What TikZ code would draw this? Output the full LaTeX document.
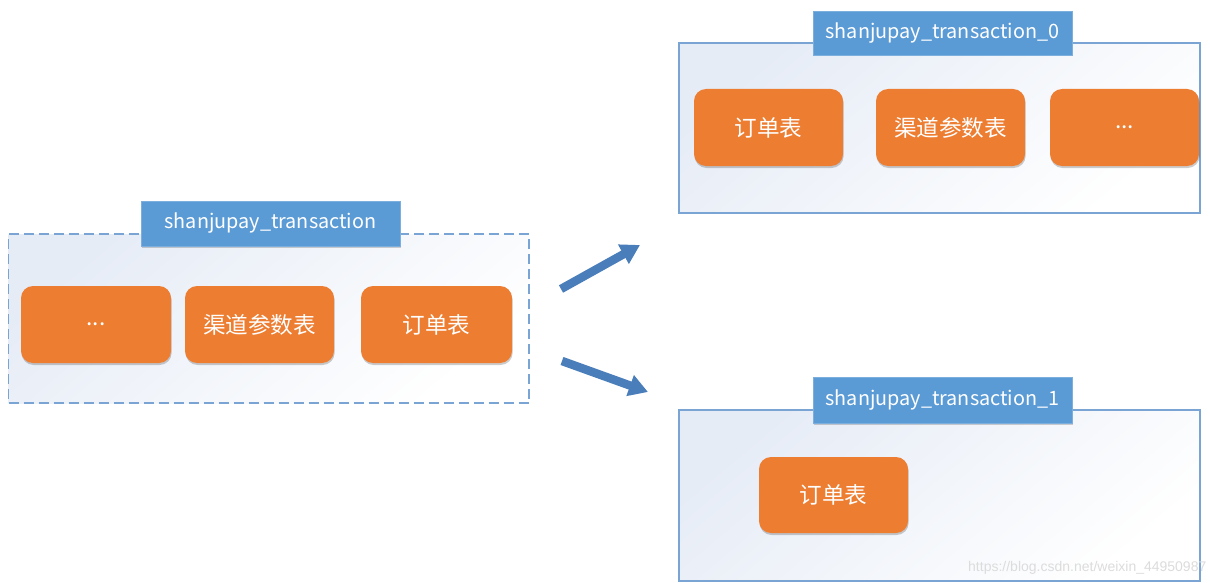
\documentclass[tikz,border=0pt]{standalone}
\usepackage{fontspec}
\setmainfont{Noto Sans CJK SC}
\newfontfamily\wmfont{Liberation Sans}
\usetikzlibrary{arrows.meta,shadows}
\definecolor{orangebox}{HTML}{ED7D31}
\definecolor{titleblue}{HTML}{5B9BD5}
\definecolor{borderblue}{HTML}{7AA4D3}
\definecolor{arrowblue}{HTML}{4A7EBB}
\definecolor{bgblue}{HTML}{E6ECF6}
\definecolor{wmgray}{HTML}{DCDCDC}
\tikzset{
  container/.style={draw=borderblue, line width=1.6pt, inner sep=0pt,
    shading=axis, top color=bgblue, bottom color=white, shading angle=40},
  dashedcontainer/.style={container, dash pattern=on 10pt off 5pt},
  titlebox/.style={fill=titleblue, draw=titleblue!80, line width=0.5pt, text=white, inner sep=0pt,
    minimum width=259pt, minimum height=45pt,
    font=\fontsize{19.8}{23}\selectfont,
    drop shadow={shadow xshift=0.6pt, shadow yshift=-1.5pt, opacity=0.18, fill=black}},
  tablebox/.style={fill=orangebox, rounded corners=12pt, text=white, inner sep=0pt,
    minimum width=149pt, minimum height=77pt,
    font=\fontsize{22.6}{26}\selectfont,
    drop shadow={shadow xshift=0.6pt, shadow yshift=-2pt, opacity=0.2, fill=black}},
  blockarrow/.style={draw=arrowblue, line width=8.5pt,
    -{Triangle[length=19pt, width=21pt]}}
}
\begin{document}
\begin{tikzpicture}[x=1pt, y=-1pt]
\useasboundingbox[fill=white] (0,0) rectangle (1210,583);

% left database
\node[dashedcontainer, minimum width=520.5pt, minimum height=169pt] (src) at (268.75,318.5) {};
\node[titlebox] (srctitle) at (270.5,223.5) {shanjupay\_transaction};
\node[tablebox, minimum width=150pt] (srcA) at (96,324.5) {...};
\node[tablebox] (srcB) at (259.5,324.5) {渠道参数表};
\node[tablebox, minimum width=151pt] (srcC) at (436.5,324.5) {订单表};

% top right database
\node[container, minimum width=521pt, minimum height=170pt] (db0) at (939.5,128) {};
\node[titlebox, minimum height=44pt] (db0title) at (942.5,33) {shanjupay\_transaction\_0};
\node[tablebox] (db0A) at (768.5,127.5) {订单表};
\node[tablebox] (db0B) at (950.5,127.5) {渠道参数表};
\node[tablebox] (db0C) at (1124.5,127.5) {...};

% bottom right database
\node[container, minimum width=521pt, minimum height=171pt] (db1) at (939.5,495.5) {};
\node[titlebox, minimum height=46pt] (db1title) at (942.5,400) {shanjupay\_transaction\_1};
\node[tablebox, minimum height=76pt] (db1A) at (833.5,495) {订单表};

% watermark
\node[anchor=base west, inner sep=0pt, text=wmgray, font=\wmfont\fontsize{14}{16}\selectfont] (wm) at (968,571) {https://blog.csdn.net/weixin\_44950987};

% arrows
\coordinate (a1s) at (561,289);
\coordinate (a1e) at (640,245);
\coordinate (a2s) at (562,361);
\coordinate (a2e) at (648,392);
\draw[blockarrow] (a1s) -- (a1e);
\draw[blockarrow] (a2s) -- (a2e);
\end{tikzpicture}
\end{document}
